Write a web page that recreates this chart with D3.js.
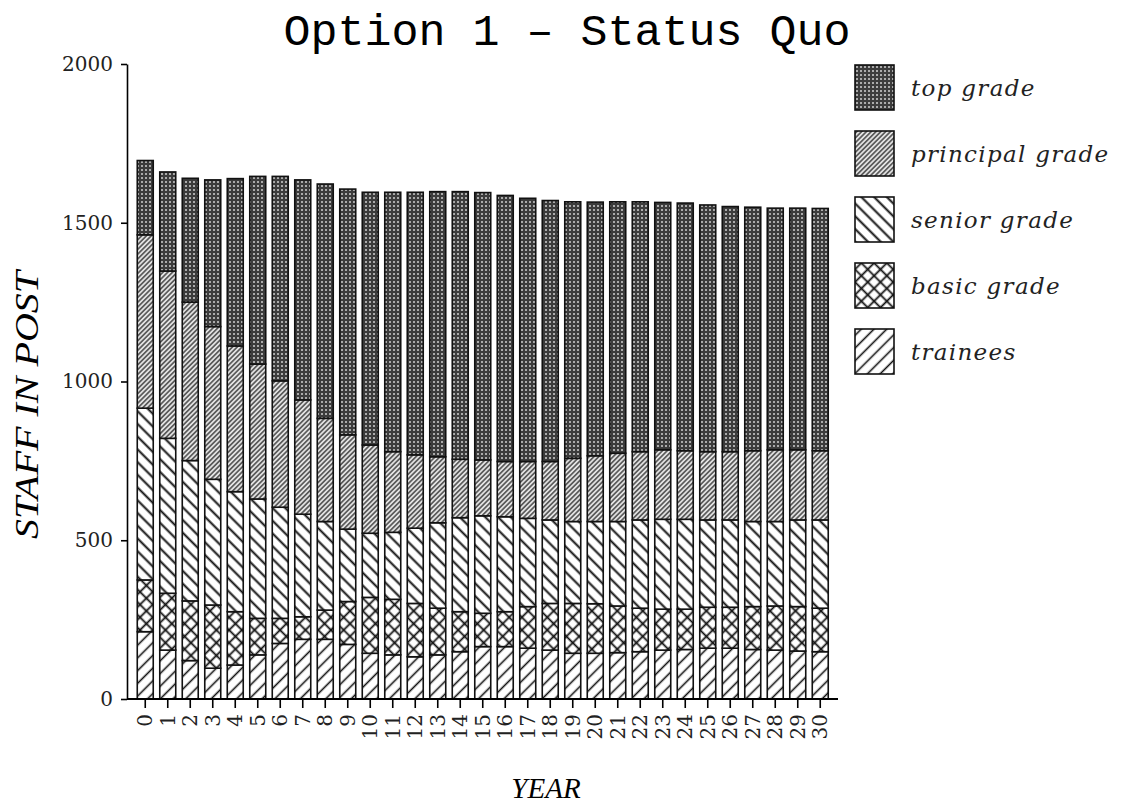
<!DOCTYPE html>
<html>
<head>
<meta charset="utf-8">
<script src="https://cdn.jsdelivr.net/npm/d3@7"></script>
<style>
  body { margin: 0; background: #fff; }
  svg { display: block; }
</style>
</head>
<body>
<script>
const w = 1125;
const h = 807;

// Data (staff in post per grade, years 0-30)
const years = d3.range(0, 31);
const grades = ["trainees", "basic grade", "senior grade", "principal grade", "top grade"];
const trainees = [212, 154, 121, 97, 107, 139, 175, 188, 188, 172, 144, 139, 133, 139, 149, 165, 165, 160, 154, 144, 144, 146, 149, 154, 156, 160, 160, 156, 154, 151, 149];
const basicGrade = [163, 179, 188, 199, 168, 115, 79, 71, 92, 135, 176, 175, 168, 147, 126, 105, 110, 131, 147, 157, 156, 147, 137, 129, 127, 129, 129, 135, 139, 140, 137];
const seniorGrade = [541, 488, 442, 396, 378, 376, 350, 323, 279, 228, 202, 211, 237, 269, 296, 307, 299, 278, 263, 258, 259, 266, 278, 283, 283, 275, 275, 268, 266, 273, 278];
const principalGrade = [546, 527, 499, 481, 459, 425, 398, 360, 325, 297, 278, 254, 231, 208, 184, 176, 174, 179, 184, 199, 207, 215, 215, 219, 216, 215, 215, 223, 226, 221, 218];
const topGrade = [234, 312, 390, 462, 527, 591, 644, 693, 738, 774, 796, 817, 827, 835, 843, 842, 838, 829, 822, 808, 799, 792, 787, 779, 780, 777, 772, 767, 761, 761, 763];
const yTicks = [0, 500, 1000, 1500, 2000];

const table = years.map((y, i) => ({
  year: y,
  "trainees": trainees[i],
  "basic grade": basicGrade[i],
  "senior grade": seniorGrade[i],
  "principal grade": principalGrade[i],
  "top grade": topGrade[i]
}));

const axisLeftX = 127;
const axisBottomY = 699;

const svg = d3.select("body").append("svg").attr("width", w).attr("height", h);
const defs = svg.append("defs");

// hatch patterns: lines rotated
function hatch(id, angle, gap, width, bg) {
  const p = defs.append("pattern")
    .attr("id", id)
    .attr("patternUnits", "userSpaceOnUse")
    .attr("width", gap)
    .attr("height", gap)
    .attr("patternTransform", `rotate(${angle})`);
  p.append("rect").attr("width", gap).attr("height", gap).attr("fill", bg || "#fff");
  p.append("line")
    .attr("x1", gap / 2).attr("y1", 0)
    .attr("x2", gap / 2).attr("y2", gap)
    .attr("stroke", "#111")
    .attr("stroke-width", width);
  return p;
}

hatch("pTrainees", 45, 9, 1.6);
hatch("pSenior", -45, 9, 2);
hatch("pPrincipal", 45, 3.4, 1.1, "#e2e2e2");

// cross hatch for basic grade
const cross = defs.append("pattern")
  .attr("id", "pBasic")
  .attr("patternUnits", "userSpaceOnUse")
  .attr("width", 9)
  .attr("height", 9)
  .attr("patternTransform", "rotate(45)");
cross.append("rect").attr("width", 9).attr("height", 9).attr("fill", "#fff");
cross.append("line").attr("x1", 4.5).attr("y1", 0).attr("x2", 4.5).attr("y2", 9)
  .attr("stroke", "#111").attr("stroke-width", 1.8);
cross.append("line").attr("x1", 0).attr("y1", 4.5).attr("x2", 9).attr("y2", 4.5)
  .attr("stroke", "#111").attr("stroke-width", 1.8);

// dark dotted texture for top grade
const dots = defs.append("pattern")
  .attr("id", "pTop")
  .attr("patternUnits", "userSpaceOnUse")
  .attr("width", 4)
  .attr("height", 4);
dots.append("rect").attr("width", 4).attr("height", 4).attr("fill", "#3c3c3c");
dots.append("circle").attr("cx", 2).attr("cy", 2).attr("r", 1).attr("fill", "#d0d0d0");

const fills = {
  "trainees": "url(#pTrainees)",
  "basic grade": "url(#pBasic)",
  "senior grade": "url(#pSenior)",
  "principal grade": "url(#pPrincipal)",
  "top grade": "url(#pTop)"
};

// Scales
const xScale = d3.scaleBand()
  .domain(years)
  .range([134, 831.5])
  .paddingInner(0.29)
  .paddingOuter(0.145);

const yScale = d3.scaleLinear()
  .domain([0, 2000])
  .range([axisBottomY, 64]);

// Title
svg.append("text")
  .attr("x", 567)
  .attr("y", 45)
  .attr("text-anchor", "middle")
  .style("font-family", "'Liberation Mono', 'DejaVu Sans Mono', monospace")
  .style("font-size", "45px")
  .text("Option 1 \u2013 Status Quo");

// Stacked bars
const stack = d3.stack().keys(grades);
const series = stack(table);

svg.append("g")
  .selectAll("g")
  .data(series)
  .join("g")
  .attr("fill", (d) => fills[d.key])
  .selectAll("rect")
  .data((d) => d)
  .join("rect")
  .attr("x", (d) => xScale(d.data.year))
  .attr("y", (d) => yScale(d[1]))
  .attr("width", xScale.bandwidth())
  .attr("height", (d) => yScale(d[0]) - yScale(d[1]))
  .attr("stroke", "#111")
  .attr("stroke-width", 1.6);

// y axis
const yAxis = d3.axisLeft(yScale)
  .tickValues(yTicks)
  .tickFormat(d3.format("d"))
  .tickSize(6)
  .tickSizeOuter(0)
  .tickPadding(8);
const gy = svg.append("g")
  .attr("transform", `translate(${axisLeftX}, 0)`)
  .call(yAxis);
gy.select(".domain").attr("stroke-width", 1.6);
gy.selectAll(".tick line").attr("stroke-width", 1.6);
gy.selectAll(".tick text")
  .style("font-family", "'DejaVu Serif', serif")
  .style("font-size", "20px")
  .attr("fill", "#222");

// x axis
const xAxis = d3.axisBottom(xScale).tickSize(9).tickSizeOuter(0).tickPadding(6);
const gx = svg.append("g")
  .attr("transform", `translate(0, ${axisBottomY})`)
  .call(xAxis);
gx.select(".domain").attr("d", `M${axisLeftX},0H838`).attr("stroke-width", 1.8);
gx.selectAll(".tick line").attr("stroke-width", 1.6);
gx.selectAll(".tick text")
  .attr("transform", "rotate(-90)")
  .attr("text-anchor", "end")
  .attr("x", -15)
  .attr("y", 0)
  .attr("dy", "0.36em")
  .style("font-family", "'DejaVu Serif', serif")
  .style("font-size", "20px")
  .attr("fill", "#222");

// axis titles
svg.append("text")
  .attr("transform", "translate(38, 405) rotate(-90)")
  .attr("text-anchor", "middle")
  .attr("textLength", 268)
  .attr("lengthAdjust", "spacingAndGlyphs")
  .style("font-family", "'Liberation Serif', serif")
  .style("font-style", "italic")
  .style("font-size", "33px")
  .text("STAFF IN POST");

svg.append("text")
  .attr("x", 546)
  .attr("y", 798)
  .attr("text-anchor", "middle")
  .style("font-family", "'Liberation Serif', serif")
  .style("font-style", "italic")
  .style("font-size", "29px")
  .text("YEAR");

// Legend (top grade first)
const legendKeys = grades.slice().reverse();
const legend = svg.append("g").attr("transform", "translate(855, 65)");
const item = legend.selectAll("g")
  .data(legendKeys)
  .join("g")
  .attr("transform", (d, i) => `translate(0, ${i * 66})`);

item.append("rect")
  .attr("width", 39)
  .attr("height", 45)
  .attr("fill", (d) => fills[d])
  .attr("stroke", "#111")
  .attr("stroke-width", 1.6);

item.append("text")
  .attr("x", 56)
  .attr("y", 31)
  .style("font-family", "'DejaVu Serif', serif")
  .style("font-style", "italic")
  .style("font-size", "23px")
  .style("letter-spacing", "1.3px")
  .attr("fill", "#222")
  .text((d) => d);
</script>
</body>
</html>
